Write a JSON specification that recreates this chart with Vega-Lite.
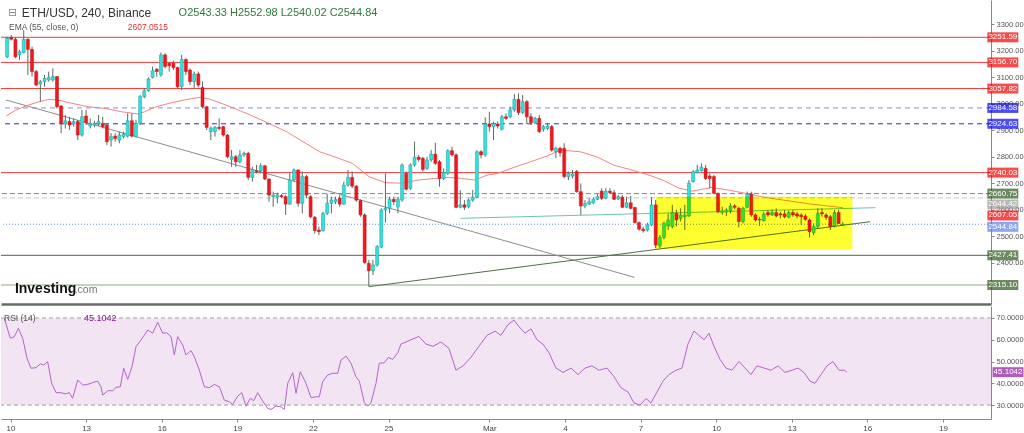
{
"$schema":"https://vega.github.io/schema/vega-lite/v6.json",
"padding":0,
"background":"white",
"spacing":2,
"config":{"view":{"stroke":null},"font":"Liberation Sans","axis":{"labelOverlap":false}},
"datasets":{
"candles":[
{"h":-8,"o":3178,"hi":3254,"lo":3172,"c":3248},{"h":-4,"o":3251,"hi":3260,"lo":3239,"c":3244},{"h":0,"o":3244,"hi":3251,"lo":3172,"c":3178},{"h":4,"o":3185,"hi":3204,"lo":3166,"c":3197},{"h":8,"o":3194,"hi":3279,"lo":3191,"c":3244},{"h":12,"o":3244,"hi":3248,"lo":3109,"c":3206},{"h":16,"o":3206,"hi":3216,"lo":3103,"c":3122},{"h":20,"o":3122,"hi":3128,"lo":3067,"c":3071},{"h":24,"o":3075,"hi":3090,"lo":3008,"c":3084},{"h":28,"o":3084,"hi":3109,"lo":3065,"c":3096},{"h":32,"o":3090,"hi":3122,"lo":3084,"c":3100},{"h":36,"o":3090,"hi":3134,"lo":3084,"c":3103},{"h":40,"o":3103,"hi":3105,"lo":2983,"c":2989},{"h":44,"o":2992,"hi":2995,"lo":2889,"c":2926},{"h":48,"o":2924,"hi":2958,"lo":2907,"c":2936},{"h":52,"o":2933,"hi":2951,"lo":2901,"c":2920},{"h":56,"o":2924,"hi":2945,"lo":2914,"c":2933},{"h":60,"o":2933,"hi":2939,"lo":2863,"c":2882},{"h":64,"o":2882,"hi":2977,"lo":2876,"c":2951},{"h":68,"o":2954,"hi":2977,"lo":2920,"c":2929},{"h":72,"o":2916,"hi":2945,"lo":2907,"c":2926},{"h":76,"o":2920,"hi":2936,"lo":2911,"c":2926},{"h":80,"o":2924,"hi":2958,"lo":2916,"c":2933},{"h":84,"o":2926,"hi":2951,"lo":2907,"c":2914},{"h":88,"o":2920,"hi":2924,"lo":2844,"c":2857},{"h":92,"o":2863,"hi":2889,"lo":2838,"c":2876},{"h":96,"o":2878,"hi":2889,"lo":2857,"c":2869},{"h":100,"o":2863,"hi":2895,"lo":2851,"c":2882},{"h":104,"o":2876,"hi":2895,"lo":2870,"c":2886},{"h":108,"o":2878,"hi":2964,"lo":2873,"c":2936},{"h":112,"o":2936,"hi":2964,"lo":2873,"c":2878},{"h":116,"o":2876,"hi":2939,"lo":2873,"c":2926},{"h":120,"o":2926,"hi":3033,"lo":2920,"c":3027},{"h":124,"o":3027,"hi":3059,"lo":3021,"c":3050},{"h":128,"o":3050,"hi":3100,"lo":3046,"c":3094},{"h":132,"o":3100,"hi":3141,"lo":3096,"c":3125},{"h":136,"o":3131,"hi":3134,"lo":3103,"c":3122},{"h":140,"o":3109,"hi":3194,"lo":3103,"c":3185},{"h":144,"o":3185,"hi":3191,"lo":3134,"c":3141},{"h":148,"o":3153,"hi":3159,"lo":3122,"c":3144},{"h":152,"o":3153,"hi":3163,"lo":3128,"c":3137},{"h":156,"o":3137,"hi":3141,"lo":3059,"c":3065},{"h":160,"o":3065,"hi":3185,"lo":3052,"c":3168},{"h":164,"o":3168,"hi":3172,"lo":3109,"c":3122},{"h":168,"o":3128,"hi":3134,"lo":3071,"c":3084},{"h":172,"o":3084,"hi":3122,"lo":3059,"c":3113},{"h":176,"o":3113,"hi":3122,"lo":3062,"c":3071},{"h":180,"o":3062,"hi":3084,"lo":2983,"c":2989},{"h":184,"o":2989,"hi":2992,"lo":2901,"c":2911},{"h":188,"o":2895,"hi":2914,"lo":2863,"c":2909},{"h":192,"o":2895,"hi":2916,"lo":2876,"c":2911},{"h":196,"o":2911,"hi":2945,"lo":2899,"c":2907},{"h":200,"o":2914,"hi":2916,"lo":2876,"c":2882},{"h":204,"o":2882,"hi":2886,"lo":2794,"c":2800},{"h":208,"o":2790,"hi":2825,"lo":2762,"c":2800},{"h":212,"o":2800,"hi":2807,"lo":2762,"c":2781},{"h":216,"o":2781,"hi":2825,"lo":2775,"c":2807},{"h":220,"o":2807,"hi":2819,"lo":2800,"c":2813},{"h":224,"o":2813,"hi":2819,"lo":2712,"c":2722},{"h":228,"o":2722,"hi":2762,"lo":2706,"c":2752},{"h":232,"o":2747,"hi":2769,"lo":2737,"c":2744},{"h":236,"o":2747,"hi":2775,"lo":2737,"c":2766},{"h":240,"o":2766,"hi":2769,"lo":2712,"c":2716},{"h":244,"o":2716,"hi":2718,"lo":2630,"c":2655},{"h":248,"o":2649,"hi":2668,"lo":2611,"c":2655},{"h":252,"o":2647,"hi":2664,"lo":2624,"c":2655},{"h":256,"o":2653,"hi":2659,"lo":2643,"c":2649},{"h":260,"o":2649,"hi":2655,"lo":2580,"c":2621},{"h":264,"o":2621,"hi":2737,"lo":2618,"c":2712},{"h":268,"o":2712,"hi":2756,"lo":2706,"c":2750},{"h":272,"o":2750,"hi":2752,"lo":2611,"c":2624},{"h":276,"o":2624,"hi":2744,"lo":2586,"c":2725},{"h":280,"o":2725,"hi":2731,"lo":2643,"c":2655},{"h":284,"o":2649,"hi":2655,"lo":2567,"c":2573},{"h":288,"o":2571,"hi":2576,"lo":2510,"c":2521},{"h":292,"o":2523,"hi":2536,"lo":2504,"c":2517},{"h":296,"o":2521,"hi":2592,"lo":2517,"c":2586},{"h":300,"o":2586,"hi":2659,"lo":2580,"c":2624},{"h":304,"o":2624,"hi":2649,"lo":2586,"c":2636},{"h":308,"o":2630,"hi":2649,"lo":2621,"c":2639},{"h":312,"o":2643,"hi":2655,"lo":2611,"c":2621},{"h":316,"o":2621,"hi":2706,"lo":2618,"c":2693},{"h":320,"o":2693,"hi":2750,"lo":2687,"c":2722},{"h":324,"o":2722,"hi":2744,"lo":2681,"c":2689},{"h":328,"o":2689,"hi":2693,"lo":2630,"c":2636},{"h":332,"o":2634,"hi":2639,"lo":2573,"c":2580},{"h":336,"o":2580,"hi":2586,"lo":2395,"c":2400},{"h":340,"o":2397,"hi":2410,"lo":2309,"c":2369},{"h":344,"o":2369,"hi":2410,"lo":2353,"c":2391},{"h":348,"o":2391,"hi":2466,"lo":2384,"c":2460},{"h":352,"o":2458,"hi":2605,"lo":2454,"c":2599},{"h":356,"o":2599,"hi":2737,"lo":2551,"c":2605},{"h":360,"o":2605,"hi":2649,"lo":2586,"c":2639},{"h":364,"o":2639,"hi":2649,"lo":2618,"c":2630},{"h":368,"o":2611,"hi":2647,"lo":2586,"c":2639},{"h":372,"o":2636,"hi":2775,"lo":2630,"c":2769},{"h":376,"o":2737,"hi":2744,"lo":2672,"c":2677},{"h":380,"o":2681,"hi":2775,"lo":2674,"c":2769},{"h":384,"o":2769,"hi":2857,"lo":2762,"c":2798},{"h":388,"o":2798,"hi":2807,"lo":2781,"c":2790},{"h":392,"o":2794,"hi":2800,"lo":2744,"c":2752},{"h":396,"o":2756,"hi":2800,"lo":2750,"c":2788},{"h":400,"o":2788,"hi":2825,"lo":2781,"c":2810},{"h":404,"o":2810,"hi":2853,"lo":2769,"c":2775},{"h":408,"o":2781,"hi":2788,"lo":2687,"c":2718},{"h":412,"o":2718,"hi":2756,"lo":2712,"c":2740},{"h":416,"o":2737,"hi":2828,"lo":2731,"c":2823},{"h":420,"o":2823,"hi":2838,"lo":2800,"c":2807},{"h":424,"o":2807,"hi":2813,"lo":2605,"c":2609},{"h":428,"o":2609,"hi":2674,"lo":2605,"c":2618},{"h":432,"o":2618,"hi":2636,"lo":2599,"c":2609},{"h":436,"o":2611,"hi":2643,"lo":2605,"c":2636},{"h":440,"o":2636,"hi":2674,"lo":2630,"c":2647},{"h":444,"o":2647,"hi":2825,"lo":2643,"c":2819},{"h":448,"o":2819,"hi":2825,"lo":2794,"c":2807},{"h":452,"o":2807,"hi":2949,"lo":2800,"c":2924},{"h":456,"o":2924,"hi":2970,"lo":2895,"c":2914},{"h":460,"o":2914,"hi":2933,"lo":2863,"c":2926},{"h":464,"o":2924,"hi":2933,"lo":2907,"c":2916},{"h":468,"o":2904,"hi":2958,"lo":2899,"c":2951},{"h":472,"o":2951,"hi":2964,"lo":2939,"c":2945},{"h":476,"o":2951,"hi":2989,"lo":2945,"c":2977},{"h":480,"o":2977,"hi":3037,"lo":2970,"c":3017},{"h":484,"o":3017,"hi":3040,"lo":2958,"c":2967},{"h":488,"o":2967,"hi":3033,"lo":2962,"c":3008},{"h":492,"o":3008,"hi":3014,"lo":2924,"c":2951},{"h":496,"o":2951,"hi":2964,"lo":2920,"c":2929},{"h":500,"o":2929,"hi":2951,"lo":2924,"c":2945},{"h":504,"o":2945,"hi":2958,"lo":2889,"c":2895},{"h":508,"o":2904,"hi":2920,"lo":2895,"c":2914},{"h":512,"o":2907,"hi":2926,"lo":2901,"c":2916},{"h":516,"o":2914,"hi":2920,"lo":2819,"c":2825},{"h":520,"o":2819,"hi":2838,"lo":2794,"c":2832},{"h":524,"o":2832,"hi":2838,"lo":2800,"c":2815},{"h":528,"o":2832,"hi":2851,"lo":2718,"c":2725},{"h":532,"o":2725,"hi":2744,"lo":2712,"c":2737},{"h":536,"o":2727,"hi":2750,"lo":2718,"c":2735},{"h":540,"o":2744,"hi":2750,"lo":2664,"c":2668},{"h":544,"o":2668,"hi":2699,"lo":2580,"c":2614},{"h":548,"o":2614,"hi":2636,"lo":2605,"c":2624},{"h":552,"o":2621,"hi":2643,"lo":2618,"c":2630},{"h":556,"o":2626,"hi":2647,"lo":2621,"c":2639},{"h":560,"o":2639,"hi":2659,"lo":2636,"c":2649},{"h":564,"o":2670,"hi":2681,"lo":2636,"c":2643},{"h":568,"o":2643,"hi":2681,"lo":2639,"c":2670},{"h":572,"o":2670,"hi":2681,"lo":2659,"c":2664},{"h":576,"o":2664,"hi":2674,"lo":2636,"c":2639},{"h":580,"o":2640,"hi":2655,"lo":2636,"c":2649},{"h":584,"o":2647,"hi":2655,"lo":2605,"c":2609},{"h":588,"o":2609,"hi":2649,"lo":2605,"c":2626},{"h":592,"o":2626,"hi":2652,"lo":2601,"c":2605},{"h":596,"o":2608,"hi":2611,"lo":2548,"c":2551},{"h":600,"o":2551,"hi":2555,"lo":2521,"c":2526},{"h":604,"o":2526,"hi":2536,"lo":2513,"c":2521},{"h":608,"o":2523,"hi":2551,"lo":2517,"c":2542},{"h":612,"o":2542,"hi":2647,"lo":2538,"c":2618},{"h":616,"o":2618,"hi":2636,"lo":2454,"c":2466},{"h":620,"o":2463,"hi":2504,"lo":2454,"c":2495},{"h":624,"o":2495,"hi":2555,"lo":2488,"c":2548},{"h":628,"o":2538,"hi":2586,"lo":2523,"c":2561},{"h":632,"o":2536,"hi":2618,"lo":2529,"c":2589},{"h":636,"o":2586,"hi":2599,"lo":2536,"c":2561},{"h":640,"o":2567,"hi":2605,"lo":2555,"c":2580},{"h":644,"o":2573,"hi":2618,"lo":2523,"c":2580},{"h":648,"o":2576,"hi":2712,"lo":2573,"c":2700},{"h":652,"o":2706,"hi":2750,"lo":2702,"c":2744},{"h":656,"o":2740,"hi":2769,"lo":2737,"c":2750},{"h":660,"o":2747,"hi":2775,"lo":2744,"c":2760},{"h":664,"o":2756,"hi":2769,"lo":2712,"c":2718},{"h":668,"o":2727,"hi":2737,"lo":2681,"c":2718},{"h":672,"o":2725,"hi":2731,"lo":2659,"c":2662},{"h":676,"o":2662,"hi":2664,"lo":2586,"c":2592},{"h":680,"o":2589,"hi":2611,"lo":2580,"c":2596},{"h":684,"o":2591,"hi":2605,"lo":2576,"c":2599},{"h":688,"o":2596,"hi":2624,"lo":2586,"c":2614},{"h":692,"o":2614,"hi":2621,"lo":2601,"c":2609},{"h":696,"o":2605,"hi":2611,"lo":2533,"c":2555},{"h":700,"o":2555,"hi":2611,"lo":2548,"c":2605},{"h":704,"o":2609,"hi":2668,"lo":2605,"c":2658},{"h":708,"o":2659,"hi":2668,"lo":2573,"c":2580},{"h":712,"o":2580,"hi":2586,"lo":2555,"c":2561},{"h":716,"o":2563,"hi":2573,"lo":2538,"c":2561},{"h":720,"o":2558,"hi":2592,"lo":2555,"c":2583},{"h":724,"o":2589,"hi":2599,"lo":2573,"c":2580},{"h":728,"o":2580,"hi":2601,"lo":2576,"c":2589},{"h":732,"o":2589,"hi":2605,"lo":2571,"c":2576},{"h":736,"o":2584,"hi":2592,"lo":2567,"c":2580},{"h":740,"o":2584,"hi":2599,"lo":2567,"c":2573},{"h":744,"o":2571,"hi":2596,"lo":2567,"c":2589},{"h":748,"o":2589,"hi":2599,"lo":2573,"c":2580},{"h":752,"o":2584,"hi":2592,"lo":2567,"c":2576},{"h":756,"o":2580,"hi":2586,"lo":2542,"c":2573},{"h":760,"o":2576,"hi":2584,"lo":2558,"c":2563},{"h":764,"o":2561,"hi":2567,"lo":2495,"c":2517},{"h":768,"o":2513,"hi":2548,"lo":2504,"c":2536},{"h":772,"o":2536,"hi":2605,"lo":2529,"c":2586},{"h":776,"o":2589,"hi":2605,"lo":2573,"c":2584},{"h":780,"o":2580,"hi":2586,"lo":2561,"c":2571},{"h":784,"o":2573,"hi":2580,"lo":2523,"c":2536},{"h":788,"o":2538,"hi":2599,"lo":2533,"c":2589},{"h":792,"o":2589,"hi":2599,"lo":2546,"c":2548},{"h":796,"o":2543.33,"hi":2552.98,"lo":2540.02,"c":2544.84}
],
"ema":[
{"h":-9,"p":2954},{"h":0.5,"p":2977},{"h":10,"p":2992},{"h":22.7,"p":3008},{"h":32.2,"p":3017},{"h":41.7,"p":3014},{"h":54.4,"p":3002},{"h":70.3,"p":2989},{"h":86.2,"p":2983},{"h":102.1,"p":2970},{"h":117.9,"p":2962},{"h":124.3,"p":2970},{"h":133.8,"p":2987},{"h":149.7,"p":3004},{"h":165.5,"p":3017},{"h":178.3,"p":3025},{"h":187.8,"p":3017},{"h":206.9,"p":2989},{"h":225.9,"p":2958},{"h":244.9,"p":2924},{"h":260.8,"p":2895},{"h":276.7,"p":2857},{"h":292.6,"p":2819},{"h":308.4,"p":2798},{"h":324.3,"p":2775},{"h":340.2,"p":2725},{"h":356,"p":2702},{"h":371.9,"p":2700},{"h":387.8,"p":2712},{"h":403.6,"p":2718},{"h":416.4,"p":2722},{"h":429,"p":2718},{"h":441.7,"p":2712},{"h":454.5,"p":2731},{"h":464,"p":2737},{"h":479.8,"p":2760},{"h":495.7,"p":2781},{"h":511.6,"p":2803},{"h":524.3,"p":2825},{"h":543.3,"p":2819},{"h":559.2,"p":2800},{"h":575,"p":2769},{"h":591,"p":2752},{"h":606.9,"p":2734},{"h":622.7,"p":2712},{"h":638.6,"p":2681},{"h":651.2,"p":2670},{"h":670.3,"p":2684},{"h":686.2,"p":2674},{"h":702.1,"p":2662},{"h":717.9,"p":2649},{"h":733.8,"p":2639},{"h":749.7,"p":2630},{"h":765.5,"p":2621},{"h":781.4,"p":2614},{"h":796.4,"p":2607.05}
],
"rsi":[
{"h":-5.9,"v":69.9},{"h":-0.2,"v":60.7},{"h":3.6,"v":61.4},{"h":7.5,"v":65.3},{"h":11.6,"v":60.7},{"h":15.7,"v":51.5},{"h":19.5,"v":46.9},{"h":24.3,"v":47.2},{"h":28.4,"v":48.9},{"h":31.6,"v":48.4},{"h":35.4,"v":49.9},{"h":39.2,"v":40},{"h":43.3,"v":35.7},{"h":48.1,"v":35.7},{"h":51.9,"v":35.1},{"h":56,"v":35.7},{"h":59.2,"v":33.1},{"h":64,"v":41.5},{"h":68.8,"v":39.2},{"h":73.5,"v":39.5},{"h":78.3,"v":40.3},{"h":83,"v":41},{"h":86.2,"v":38.4},{"h":87.8,"v":34.6},{"h":92.6,"v":36.6},{"h":97.3,"v":36.6},{"h":100.5,"v":38.1},{"h":104.6,"v":38.4},{"h":107.8,"v":46.9},{"h":111.6,"v":41.8},{"h":115.7,"v":47.6},{"h":119.5,"v":56.8},{"h":124.3,"v":59.9},{"h":130.7,"v":64.5},{"h":135.4,"v":63},{"h":140.2,"v":68},{"h":145,"v":63},{"h":148.8,"v":63.2},{"h":152.9,"v":61.4},{"h":156,"v":53},{"h":159.2,"v":61.4},{"h":164,"v":57.6},{"h":167.1,"v":53},{"h":171.9,"v":55},{"h":175,"v":52.2},{"h":179.8,"v":46.1},{"h":184.6,"v":38.4},{"h":189.3,"v":38},{"h":194.1,"v":39.5},{"h":198.9,"v":38.4},{"h":203.6,"v":32.3},{"h":208.4,"v":31.5},{"h":211.6,"v":30.3},{"h":216.4,"v":34.1},{"h":220.2,"v":35.7},{"h":224.3,"v":29.5},{"h":228.4,"v":33.1},{"h":231.6,"v":32},{"h":235.4,"v":35.7},{"h":240.2,"v":31.8},{"h":245,"v":28.5},{"h":248.1,"v":28},{"h":252.9,"v":29.5},{"h":257.6,"v":29.2},{"h":260.8,"v":28},{"h":264,"v":40},{"h":268.8,"v":44.9},{"h":271.9,"v":35.4},{"h":276,"v":45.3},{"h":281.4,"v":40},{"h":286.2,"v":33.4},{"h":291,"v":33.8},{"h":294.1,"v":33.8},{"h":297.3,"v":40.7},{"h":302.1,"v":43.8},{"h":306.8,"v":44.6},{"h":311.6,"v":44.6},{"h":314.8,"v":50.7},{"h":319.5,"v":52.5},{"h":324.3,"v":49.2},{"h":329,"v":43},{"h":332.2,"v":41},{"h":337,"v":31.1},{"h":340.2,"v":29.5},{"h":343.3,"v":31.1},{"h":348.1,"v":40},{"h":351.2,"v":49.2},{"h":356,"v":49.4},{"h":359.8,"v":51.9},{"h":364,"v":51},{"h":368.8,"v":54},{"h":371.9,"v":58},{"h":381.4,"v":60},{"h":389,"v":61.5},{"h":395.7,"v":58},{"h":402.4,"v":57},{"h":410,"v":59},{"h":417.6,"v":56},{"h":424.3,"v":46},{"h":431,"v":48},{"h":438.6,"v":52},{"h":446.2,"v":57},{"h":453.8,"v":62},{"h":461.4,"v":64},{"h":467,"v":62},{"h":473.8,"v":67},{"h":479.5,"v":69},{"h":484.3,"v":66},{"h":490,"v":63},{"h":495.7,"v":65},{"h":501.4,"v":60},{"h":507.1,"v":58},{"h":512.9,"v":54},{"h":519.5,"v":47},{"h":526.2,"v":45},{"h":533.8,"v":47},{"h":540.5,"v":44},{"h":547.1,"v":47},{"h":553.8,"v":48},{"h":560.5,"v":46},{"h":568.1,"v":47},{"h":574.8,"v":43},{"h":581.4,"v":38},{"h":588.1,"v":36},{"h":593.8,"v":31},{"h":599.5,"v":30},{"h":605.2,"v":33},{"h":610,"v":31},{"h":615.7,"v":36},{"h":621.4,"v":41},{"h":627.1,"v":44},{"h":633.8,"v":46},{"h":639.5,"v":47},{"h":645.2,"v":58},{"h":650.9,"v":64},{"h":655.7,"v":62},{"h":660.5,"v":60},{"h":665.2,"v":63},{"h":670,"v":57},{"h":675.7,"v":51},{"h":681.4,"v":47},{"h":687.1,"v":46},{"h":693.8,"v":50},{"h":699.5,"v":47},{"h":705.2,"v":44},{"h":710.9,"v":48},{"h":717.6,"v":47},{"h":724.3,"v":46},{"h":731,"v":48},{"h":737.6,"v":45},{"h":744.3,"v":46},{"h":750,"v":47},{"h":755.7,"v":45},{"h":761.4,"v":41},{"h":766.2,"v":40},{"h":771.9,"v":44},{"h":777.6,"v":48},{"h":783.3,"v":50},{"h":789,"v":46},{"h":794.3,"v":46},{"h":796.4,"v":45.1042}
],
"levels":[
{"p":3251.59,"at":3251.59,"label":"3251.59","kind":"res"},
{"p":3156.70,"at":3156.70,"label":"3156.70","kind":"res"},
{"p":3057.82,"at":3057.82,"label":"3057.82","kind":"res"},
{"p":2984.58,"at":2984.58,"label":"2984.58","kind":"pivot_hi"},
{"p":2924.63,"at":2924.63,"label":"2924.63","kind":"pivot"},
{"p":2740.03,"at":2740.03,"label":"2740.03","kind":"res"},
{"p":2660.75,"at":2660.75,"label":"2660.75","kind":"mid_hi"},
{"p":2644.42,"at":2619.5,"label":"2644.42","kind":"mid"},
{"p":2607.05,"at":2578.0,"label":"2607.05","kind":"ema"},
{"p":2544.84,"at":2535.0,"label":"2544.84","kind":"last"},
{"p":2427.41,"at":2427.41,"label":"2427.41","kind":"sup"},
{"p":2315.10,"at":2315.10,"label":"2315.10","kind":"sup2"}
],
"trend":[
{"line":"down","h":-9,"p":3014.5},{"line":"down","h":595.7,"p":2344},
{"line":"up","h":340.2,"p":2309},{"line":"up","h":822.4,"p":2554.4},
{"line":"flat","h":428.4,"p":2567.3},{"line":"flat","h":827.4,"p":2607.4}
],
"zone":[{"h1":615.7,"h2":805.2,"p1":2451,"p2":2649}],
"rsiBand":[{"lo":30,"hi":70}],
"rsiLevels":[{"v":70},{"v":30}],
"rsiLast":[{"v":45.1042,"label":"45.1042"}],
"one":[{}]
},
"vconcat":[
{
"width":990,"height":304,
"resolve":{"scale":{"color":"independent","strokeDash":"independent"}},
"layer":[
{"data":{"name":"candles"},
 "mark":{"type":"rule","strokeWidth":1,"opacity":0,"clip":true},
 "encoding":{
  "x":{"field":"h","type":"quantitative","title":null,"scale":{"domain":[-9.05,933.8],"nice":false,"zero":false},
       "axis":{"title":null,"labels":false,"ticks":false,"grid":false,"domain":true,"domainColor":"#6a6a6a","domainWidth":2.5,"orient":"bottom"}},
  "y":{"field":"lo","type":"quantitative","title":null,"scale":{"domain":[2243.3,3392.6],"nice":false,"zero":false},
       "axis":{"title":null,"orient":"right","values":[2400,2500,2600,2700,2800,2900,3000,3100,3200,3300],"format":".2f","grid":false,"tickSize":3,"tickColor":"#888","domainColor":"#888","labelColor":"#555","labelFontSize":7.5,"labelPadding":2,"labelFont":"Liberation Sans","labelOverlap":false}},
  "y2":{"field":"hi"}
 }},
{"data":{"name":"levels"},"transform":[{"filter":"datum.kind != 'ema'"}],
 "mark":{"type":"rule","strokeWidth":1},
 "encoding":{
  "y":{"field":"p","type":"quantitative","title":null,"scale":{"domain":[2243.3,3392.6],"nice":false,"zero":false},
       "axis":{"title":null,"orient":"right","values":[2400,2500,2600,2700,2800,2900,3000,3100,3200,3300],"format":".2f","grid":false,"tickSize":3,"tickColor":"#888","domainColor":"#888","labelColor":"#555","labelFontSize":7.5,"labelPadding":2,"labelFont":"Liberation Sans","labelOverlap":false}},
  "color":{"field":"kind","type":"nominal","legend":null,"scale":{"domain":["res","pivot_hi","pivot","mid_hi","mid","last","sup","sup2"],"range":["#f23a3a","#8a8aee","#2a2ad6","#7d8c7a","#c4c4c4","#6d8cf0","#4a6b3c","#8fa886"]}},
  "strokeDash":{"field":"kind","type":"nominal","legend":null,"scale":{"domain":["res","pivot_hi","pivot","mid_hi","mid","last","sup","sup2"],"range":[[1,0],[5,4],[5,4],[5,3],[5,3],[1,2],[1,0],[1,0]]}}
 }},
{"data":{"name":"trend"},
 "mark":{"type":"line","strokeWidth":1},
 "encoding":{
  "x":{"field":"h","type":"quantitative","title":null,"scale":{"domain":[-9.05,933.8],"nice":false,"zero":false}},
  "y":{"field":"p","type":"quantitative","title":null,"scale":{"domain":[2243.3,3392.6],"nice":false,"zero":false},
       "axis":{"title":null,"orient":"right","values":[2400,2500,2600,2700,2800,2900,3000,3100,3200,3300],"format":".2f","grid":false,"tickSize":3,"tickColor":"#888","domainColor":"#888","labelColor":"#555","labelFontSize":7.5,"labelPadding":2,"labelFont":"Liberation Sans","labelOverlap":false}},
  "color":{"field":"line","type":"nominal","legend":null,"scale":{"domain":["down","up","flat"],"range":["#8e8e8e","#4f6f47","#6cc4b0"]}}
 }},
{"data":{"name":"ema"},
 "mark":{"type":"line","strokeWidth":1,"color":"#f4857f"},
 "encoding":{
  "x":{"field":"h","type":"quantitative","title":null,"scale":{"domain":[-9.05,933.8],"nice":false,"zero":false}},
  "y":{"field":"p","type":"quantitative","title":null,"scale":{"domain":[2243.3,3392.6],"nice":false,"zero":false},
       "axis":{"title":null,"orient":"right","values":[2400,2500,2600,2700,2800,2900,3000,3100,3200,3300],"format":".2f","grid":false,"tickSize":3,"tickColor":"#888","domainColor":"#888","labelColor":"#555","labelFontSize":7.5,"labelPadding":2,"labelFont":"Liberation Sans","labelOverlap":false}}
 }},
{"data":{"name":"candles"},
 "mark":{"type":"rule","strokeWidth":1,"color":"#5a6a62","clip":true},
 "encoding":{
  "x":{"field":"h","type":"quantitative","title":null,"scale":{"domain":[-9.05,933.8],"nice":false,"zero":false}},
  "y":{"field":"lo","type":"quantitative","title":null,"scale":{"domain":[2243.3,3392.6],"nice":false,"zero":false},
       "axis":{"title":null,"orient":"right","values":[2400,2500,2600,2700,2800,2900,3000,3100,3200,3300],"format":".2f","grid":false,"tickSize":3,"tickColor":"#888","domainColor":"#888","labelColor":"#555","labelFontSize":7.5,"labelPadding":2,"labelFont":"Liberation Sans","labelOverlap":false}},
  "y2":{"field":"hi"}
 }},
{"data":{"name":"candles"},
 "mark":{"type":"bar","width":3,"clip":true,"strokeWidth":0.5},
 "encoding":{
  "x":{"field":"h","type":"quantitative","title":null,"scale":{"domain":[-9.05,933.8],"nice":false,"zero":false}},
  "y":{"field":"o","type":"quantitative","title":null,"scale":{"domain":[2243.3,3392.6],"nice":false,"zero":false},
       "axis":{"title":null,"orient":"right","values":[2400,2500,2600,2700,2800,2900,3000,3100,3200,3300],"format":".2f","grid":false,"tickSize":3,"tickColor":"#888","domainColor":"#888","labelColor":"#555","labelFontSize":7.5,"labelPadding":2,"labelFont":"Liberation Sans","labelOverlap":false}},
  "y2":{"field":"c"},
  "fill":{"condition":{"test":"datum.c >= datum.o","value":"#2fe2e0"},"value":"#f0181c"},
  "stroke":{"condition":{"test":"datum.c >= datum.o","value":"#1c9c9a"},"value":"#c01014"}
 }},
{"data":{"name":"zone"},
 "mark":{"type":"rect","fill":"#ffff30","blend":"multiply"},
 "encoding":{
  "x":{"field":"h1","type":"quantitative","title":null,"scale":{"domain":[-9.05,933.8],"nice":false,"zero":false}},
  "x2":{"field":"h2"},
  "y":{"field":"p1","type":"quantitative","title":null,"scale":{"domain":[2243.3,3392.6],"nice":false,"zero":false},
       "axis":{"title":null,"orient":"right","values":[2400,2500,2600,2700,2800,2900,3000,3100,3200,3300],"format":".2f","grid":false,"tickSize":3,"tickColor":"#888","domainColor":"#888","labelColor":"#555","labelFontSize":7.5,"labelPadding":2,"labelFont":"Liberation Sans","labelOverlap":false}},
  "y2":{"field":"p2"}
 }},
{"data":{"name":"levels"},
 "mark":{"type":"tick","orient":"horizontal","size":31,"thickness":10,"zindex":2},
 "encoding":{
  "x":{"datum":950,"type":"quantitative","title":null,"scale":{"domain":[-9.05,933.8],"nice":false,"zero":false}},
  "y":{"field":"at","type":"quantitative","title":null,"scale":{"domain":[2243.3,3392.6],"nice":false,"zero":false},
       "axis":{"title":null,"orient":"right","values":[2400,2500,2600,2700,2800,2900,3000,3100,3200,3300],"format":".2f","grid":false,"tickSize":3,"tickColor":"#888","domainColor":"#888","labelColor":"#555","labelFontSize":7.5,"labelPadding":2,"labelFont":"Liberation Sans","labelOverlap":false}},
  "color":{"field":"kind","type":"nominal","legend":null,"scale":{"domain":["res","pivot_hi","pivot","mid_hi","mid","ema","last","sup","sup2"],"range":["#f20000","#0000f0","#0000f0","#2d5a1e","#9a9a9a","#f20000","#5b7fe8","#2d5a1e","#2d5a1e"]}}
 }},
{"data":{"name":"levels"},
 "mark":{"type":"text","color":"white","fontSize":8,"align":"center","baseline":"middle","font":"Liberation Sans","zindex":3},
 "encoding":{
  "x":{"datum":950,"type":"quantitative","title":null,"scale":{"domain":[-9.05,933.8],"nice":false,"zero":false}},
  "y":{"field":"at","type":"quantitative","title":null,"scale":{"domain":[2243.3,3392.6],"nice":false,"zero":false},
       "axis":{"title":null,"orient":"right","values":[2400,2500,2600,2700,2800,2900,3000,3100,3200,3300],"format":".2f","grid":false,"tickSize":3,"tickColor":"#888","domainColor":"#888","labelColor":"#555","labelFontSize":7.5,"labelPadding":2,"labelFont":"Liberation Sans","labelOverlap":false}},
  "text":{"field":"label"}
 }},
{"data":{"name":"one"},
 "mark":{"type":"text","fontSize":12,"align":"left","baseline":"middle","color":"#333","font":"Liberation Sans"},
 "encoding":{
  "x":{"datum":6.2,"type":"quantitative","title":null,"scale":{"domain":[-9.05,933.8],"nice":false,"zero":false}},
  "y":{"datum":3343.5,"type":"quantitative","title":null,"scale":{"domain":[2243.3,3392.6],"nice":false,"zero":false},
       "axis":{"title":null,"orient":"right","values":[2400,2500,2600,2700,2800,2900,3000,3100,3200,3300],"format":".2f","grid":false,"tickSize":3,"tickColor":"#888","domainColor":"#888","labelColor":"#555","labelFontSize":7.5,"labelPadding":2,"labelFont":"Liberation Sans","labelOverlap":false}},
  "text":{"value":"ETH/USD, 240, Binance"}
 }},
{"data":{"name":"one"},
 "mark":{"type":"text","fontSize":11,"align":"left","baseline":"middle","color":"#888","font":"DejaVu Sans"},
 "encoding":{
  "x":{"datum":-7.2,"type":"quantitative","title":null,"scale":{"domain":[-9.05,933.8],"nice":false,"zero":false}},
  "y":{"datum":3343.5,"type":"quantitative","title":null,"scale":{"domain":[2243.3,3392.6],"nice":false,"zero":false},
       "axis":{"title":null,"orient":"right","values":[2400,2500,2600,2700,2800,2900,3000,3100,3200,3300],"format":".2f","grid":false,"tickSize":3,"tickColor":"#888","domainColor":"#888","labelColor":"#555","labelFontSize":7.5,"labelPadding":2,"labelFont":"Liberation Sans","labelOverlap":false}},
  "text":{"value":"⊟"}
 }},
{"data":{"name":"one"},
 "mark":{"type":"text","fontSize":11,"align":"left","baseline":"middle","color":"#2f7a3e","font":"Liberation Sans"},
 "encoding":{
  "x":{"datum":157,"type":"quantitative","title":null,"scale":{"domain":[-9.05,933.8],"nice":false,"zero":false}},
  "y":{"datum":3343.5,"type":"quantitative","title":null,"scale":{"domain":[2243.3,3392.6],"nice":false,"zero":false},
       "axis":{"title":null,"orient":"right","values":[2400,2500,2600,2700,2800,2900,3000,3100,3200,3300],"format":".2f","grid":false,"tickSize":3,"tickColor":"#888","domainColor":"#888","labelColor":"#555","labelFontSize":7.5,"labelPadding":2,"labelFont":"Liberation Sans","labelOverlap":false}},
  "text":{"value":"O2543.33  H2552.98  L2540.02  C2544.84"}
 }},
{"data":{"name":"one"},
 "mark":{"type":"text","fontSize":8.5,"align":"left","baseline":"middle","color":"#555","font":"Liberation Sans"},
 "encoding":{
  "x":{"datum":-6.2,"type":"quantitative","title":null,"scale":{"domain":[-9.05,933.8],"nice":false,"zero":false}},
  "y":{"datum":3290.5,"type":"quantitative","title":null,"scale":{"domain":[2243.3,3392.6],"nice":false,"zero":false},
       "axis":{"title":null,"orient":"right","values":[2400,2500,2600,2700,2800,2900,3000,3100,3200,3300],"format":".2f","grid":false,"tickSize":3,"tickColor":"#888","domainColor":"#888","labelColor":"#555","labelFontSize":7.5,"labelPadding":2,"labelFont":"Liberation Sans","labelOverlap":false}},
  "text":{"value":"EMA (55, close, 0)"}
 }},
{"data":{"name":"one"},
 "mark":{"type":"text","fontSize":8.5,"align":"left","baseline":"middle","color":"#f02a2a","font":"Liberation Sans"},
 "encoding":{
  "x":{"datum":108.1,"type":"quantitative","title":null,"scale":{"domain":[-9.05,933.8],"nice":false,"zero":false}},
  "y":{"datum":3290.5,"type":"quantitative","title":null,"scale":{"domain":[2243.3,3392.6],"nice":false,"zero":false},
       "axis":{"title":null,"orient":"right","values":[2400,2500,2600,2700,2800,2900,3000,3100,3200,3300],"format":".2f","grid":false,"tickSize":3,"tickColor":"#888","domainColor":"#888","labelColor":"#555","labelFontSize":7.5,"labelPadding":2,"labelFont":"Liberation Sans","labelOverlap":false}},
  "text":{"value":"2607.0515"}
 }},
{"data":{"name":"one"},
 "mark":{"type":"text","fontSize":14,"fontWeight":"bold","align":"left","baseline":"middle","color":"#111","font":"Liberation Sans"},
 "encoding":{
  "x":{"datum":-0.5,"type":"quantitative","title":null,"scale":{"domain":[-9.05,933.8],"nice":false,"zero":false}},
  "y":{"datum":2300,"type":"quantitative","title":null,"scale":{"domain":[2243.3,3392.6],"nice":false,"zero":false},
       "axis":{"title":null,"orient":"right","values":[2400,2500,2600,2700,2800,2900,3000,3100,3200,3300],"format":".2f","grid":false,"tickSize":3,"tickColor":"#888","domainColor":"#888","labelColor":"#555","labelFontSize":7.5,"labelPadding":2,"labelFont":"Liberation Sans","labelOverlap":false}},
  "text":{"value":"Investing"}
 }},
{"data":{"name":"one"},
 "mark":{"type":"text","fontSize":10.5,"align":"left","baseline":"middle","color":"#777","font":"Liberation Sans"},
 "encoding":{
  "x":{"datum":57,"type":"quantitative","title":null,"scale":{"domain":[-9.05,933.8],"nice":false,"zero":false}},
  "y":{"datum":2298,"type":"quantitative","title":null,"scale":{"domain":[2243.3,3392.6],"nice":false,"zero":false},
       "axis":{"title":null,"orient":"right","values":[2400,2500,2600,2700,2800,2900,3000,3100,3200,3300],"format":".2f","grid":false,"tickSize":3,"tickColor":"#888","domainColor":"#888","labelColor":"#555","labelFontSize":7.5,"labelPadding":2,"labelFont":"Liberation Sans","labelOverlap":false}},
  "text":{"value":".com"}
 }}
]
},
{
"width":990,"height":113,
"layer":[
{"data":{"name":"rsi"},
 "mark":{"type":"line","color":"#b565cc","strokeWidth":1,"opacity":0},
 "encoding":{
  "x":{"field":"h","type":"quantitative","title":null,"scale":{"domain":[-9.05,933.8],"nice":false,"zero":false},
       "axis":{"title":null,"orient":"bottom","values":[0,72,144,216,288,360,456,528,600,672,744,816,888],
               "labelExpr":"datum.value == 456 ? 'Mar' : (datum.value < 456 ? '' + (datum.value/24 + 10) : '' + (datum.value/24 - 18))",
               "grid":false,"tickSize":3,"tickColor":"#888","domainColor":"#888","labelColor":"#444","labelFontSize":8,"labelPadding":2,"labelFont":"Liberation Sans","labelOverlap":false}},
  "y":{"field":"v","type":"quantitative","title":null,"scale":{"domain":[23.6,75.5],"nice":false,"zero":false},
       "axis":{"title":null,"orient":"right","values":[30,40,50,60,70],"format":".4f","grid":false,"tickSize":3,"tickColor":"#888","domainColor":"#888","labelColor":"#555","labelFontSize":7.5,"labelPadding":2,"labelFont":"Liberation Sans","labelOverlap":false}}
 }},
{"data":{"name":"rsiBand"},
 "mark":{"type":"rect","fill":"#f2e4f3"},
 "encoding":{
  "x":{"datum":-9.05,"type":"quantitative","title":null,"scale":{"domain":[-9.05,933.8],"nice":false,"zero":false}},
  "x2":{"datum":933.8},
  "y":{"field":"lo","type":"quantitative","title":null,"scale":{"domain":[23.6,75.5],"nice":false,"zero":false},
       "axis":{"title":null,"orient":"right","values":[30,40,50,60,70],"format":".4f","grid":false,"tickSize":3,"tickColor":"#888","domainColor":"#888","labelColor":"#555","labelFontSize":7.5,"labelPadding":2,"labelFont":"Liberation Sans","labelOverlap":false}},
  "y2":{"field":"hi"}
 }},
{"data":{"name":"rsiLevels"},
 "mark":{"type":"rule","color":"#a0a0a0","strokeDash":[4,3],"strokeWidth":1},
 "encoding":{
  "y":{"field":"v","type":"quantitative","title":null,"scale":{"domain":[23.6,75.5],"nice":false,"zero":false},
       "axis":{"title":null,"orient":"right","values":[30,40,50,60,70],"format":".4f","grid":false,"tickSize":3,"tickColor":"#888","domainColor":"#888","labelColor":"#555","labelFontSize":7.5,"labelPadding":2,"labelFont":"Liberation Sans","labelOverlap":false}}
 }},
{"data":{"name":"rsi"},
 "mark":{"type":"line","color":"#b565cc","strokeWidth":1},
 "encoding":{
  "x":{"field":"h","type":"quantitative","title":null,"scale":{"domain":[-9.05,933.8],"nice":false,"zero":false}},
  "y":{"field":"v","type":"quantitative","title":null,"scale":{"domain":[23.6,75.5],"nice":false,"zero":false},
       "axis":{"title":null,"orient":"right","values":[30,40,50,60,70],"format":".4f","grid":false,"tickSize":3,"tickColor":"#888","domainColor":"#888","labelColor":"#555","labelFontSize":7.5,"labelPadding":2,"labelFont":"Liberation Sans","labelOverlap":false}}
 }},
{"data":{"name":"rsiLast"},
 "mark":{"type":"tick","orient":"horizontal","size":31,"thickness":10,"color":"#8b1a9b","zindex":2},
 "encoding":{
  "x":{"datum":950,"type":"quantitative","title":null,"scale":{"domain":[-9.05,933.8],"nice":false,"zero":false}},
  "y":{"field":"v","type":"quantitative","title":null,"scale":{"domain":[23.6,75.5],"nice":false,"zero":false},
       "axis":{"title":null,"orient":"right","values":[30,40,50,60,70],"format":".4f","grid":false,"tickSize":3,"tickColor":"#888","domainColor":"#888","labelColor":"#555","labelFontSize":7.5,"labelPadding":2,"labelFont":"Liberation Sans","labelOverlap":false}}
 }},
{"data":{"name":"rsiLast"},
 "mark":{"type":"text","color":"white","fontSize":8,"align":"center","baseline":"middle","font":"Liberation Sans","zindex":3},
 "encoding":{
  "x":{"datum":950,"type":"quantitative","title":null,"scale":{"domain":[-9.05,933.8],"nice":false,"zero":false}},
  "y":{"field":"v","type":"quantitative","title":null,"scale":{"domain":[23.6,75.5],"nice":false,"zero":false},
       "axis":{"title":null,"orient":"right","values":[30,40,50,60,70],"format":".4f","grid":false,"tickSize":3,"tickColor":"#888","domainColor":"#888","labelColor":"#555","labelFontSize":7.5,"labelPadding":2,"labelFont":"Liberation Sans","labelOverlap":false}},
  "text":{"field":"label"}
 }},
{"data":{"name":"one"},
 "mark":{"type":"text","fontSize":8.5,"align":"left","baseline":"middle","color":"#555","font":"Liberation Sans"},
 "encoding":{
  "x":{"datum":-6.2,"type":"quantitative","title":null,"scale":{"domain":[-9.05,933.8],"nice":false,"zero":false}},
  "y":{"datum":70,"type":"quantitative","title":null,"scale":{"domain":[23.6,75.5],"nice":false,"zero":false},
       "axis":{"title":null,"orient":"right","values":[30,40,50,60,70],"format":".4f","grid":false,"tickSize":3,"tickColor":"#888","domainColor":"#888","labelColor":"#555","labelFontSize":7.5,"labelPadding":2,"labelFont":"Liberation Sans","labelOverlap":false}},
  "text":{"value":"RSI (14)"}
 }},
{"data":{"name":"one"},
 "mark":{"type":"text","fontSize":9,"align":"left","baseline":"middle","color":"#8b1a9b","font":"Liberation Sans"},
 "encoding":{
  "x":{"datum":70,"type":"quantitative","title":null,"scale":{"domain":[-9.05,933.8],"nice":false,"zero":false}},
  "y":{"datum":70,"type":"quantitative","title":null,"scale":{"domain":[23.6,75.5],"nice":false,"zero":false},
       "axis":{"title":null,"orient":"right","values":[30,40,50,60,70],"format":".4f","grid":false,"tickSize":3,"tickColor":"#888","domainColor":"#888","labelColor":"#555","labelFontSize":7.5,"labelPadding":2,"labelFont":"Liberation Sans","labelOverlap":false}},
  "text":{"value":"45.1042"}
 }}
]
}
]
}
